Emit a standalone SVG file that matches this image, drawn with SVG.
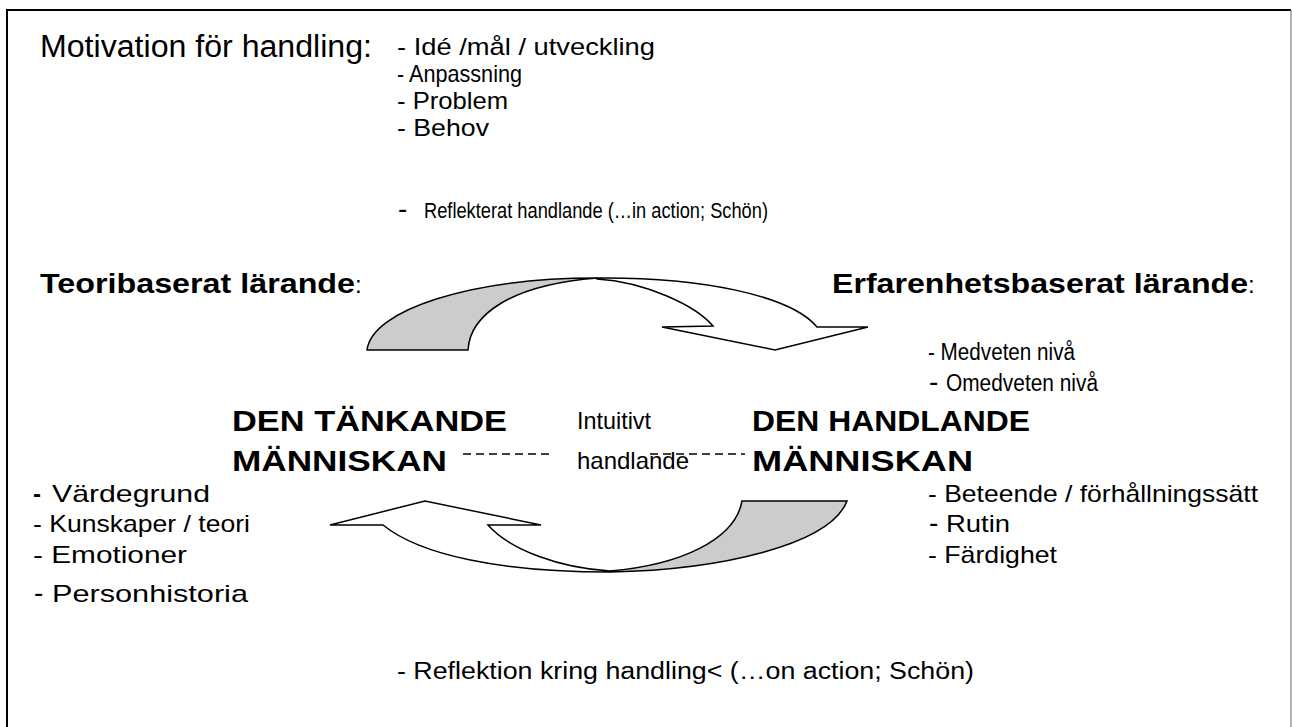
<svg xmlns="http://www.w3.org/2000/svg" width="1292" height="727" viewBox="0 0 1292 727">
<style>
text{font-family:"Liberation Sans",Arial,sans-serif;fill:#000}
.big{font-size:31px}
.it{font-size:24px}
.rf{font-size:22px}
.sm{font-size:23px}
.dsh{font-size:28px}
.hd{font-size:27px;font-weight:bold}
.mn{font-size:29px;font-weight:bold}
.ls{font-size:24px}
.b{font-weight:bold}
.arrow{stroke:#000;stroke-width:1.5;stroke-linejoin:miter}
.w{fill:#fff}
.g{fill:#cccccc}
.dash{stroke:#000;stroke-width:1.3;stroke-dasharray:8,5;fill:none}
</style>
<rect width="1292" height="727" fill="#fff"/>
<path d="M7,727 V10 H1291" fill="none" stroke="#000" stroke-width="2"/>
<path d="M1291,10 V727" fill="none" stroke="#808080" stroke-width="1.2"/>

<g id="motivation">
<text class="big" x="40" y="57" textLength="332" lengthAdjust="spacingAndGlyphs">Motivation för handling:</text>
<text class="it" x="397" y="55" textLength="258" lengthAdjust="spacingAndGlyphs">- Idé /mål / utveckling</text>
<text class="it" x="397" y="82" textLength="125" lengthAdjust="spacingAndGlyphs">- Anpassning</text>
<text class="it" x="397" y="109" textLength="111" lengthAdjust="spacingAndGlyphs">- Problem</text>
<text class="it" x="397" y="136" textLength="92" lengthAdjust="spacingAndGlyphs">- Behov</text>
<text class="dsh" x="398" y="218">-</text>
<text class="rf" x="424" y="218" textLength="344" lengthAdjust="spacingAndGlyphs">Reflekterat handlande (…in action; Schön)</text>
</g>

<g id="teori">
<text class="hd" x="40" y="293" textLength="315" lengthAdjust="spacingAndGlyphs">Teoribaserat lärande</text>
<text class="ls" x="355" y="293">:</text>
</g>
<g id="erfarenhet">
<text class="hd" x="832" y="293" textLength="416" lengthAdjust="spacingAndGlyphs">Erfarenhetsbaserat lärande</text>
<text class="ls" x="1248" y="293">:</text>
<text class="sm" x="928" y="360" textLength="147" lengthAdjust="spacingAndGlyphs">- Medveten nivå</text>
<text class="dsh" x="929" y="391">-</text>
<text class="sm" x="946" y="391" textLength="152" lengthAdjust="spacingAndGlyphs">Omedveten nivå</text>
</g>

<g id="tankande">
<text class="mn" x="232" y="431" textLength="275" lengthAdjust="spacingAndGlyphs">DEN TÄNKANDE</text>
<text class="mn" x="232" y="471" textLength="215" lengthAdjust="spacingAndGlyphs">MÄNNISKAN</text>
<text class="ls b" x="33" y="502">-</text>
<text class="ls" x="52" y="502" textLength="158" lengthAdjust="spacingAndGlyphs">Värdegrund</text>
<text class="ls" x="33" y="532" textLength="217" lengthAdjust="spacingAndGlyphs">- Kunskaper / teori</text>
<text class="ls" x="33" y="563" textLength="154" lengthAdjust="spacingAndGlyphs">- Emotioner</text>
<text class="dsh" x="34" y="602">-</text>
<text class="ls" x="52" y="602" textLength="196" lengthAdjust="spacingAndGlyphs">Personhistoria</text>
</g>

<g id="intuitivt">
<text class="it" x="577" y="429" textLength="74" lengthAdjust="spacingAndGlyphs">Intuitivt</text>
<text class="it" x="577" y="469" textLength="112" lengthAdjust="spacingAndGlyphs">handlande</text>
</g>

<g id="handlande">
<text class="mn" x="752" y="431" textLength="278" lengthAdjust="spacingAndGlyphs">DEN HANDLANDE</text>
<text class="mn" x="752" y="471" textLength="221" lengthAdjust="spacingAndGlyphs">MÄNNISKAN</text>
<text class="ls" x="928" y="502" textLength="330" lengthAdjust="spacingAndGlyphs">- Beteende / förhållningssätt</text>
<text class="dsh" x="929" y="532">-</text>
<text class="ls" x="946" y="532" textLength="64" lengthAdjust="spacingAndGlyphs">Rutin</text>
<text class="ls" x="928" y="563" textLength="129" lengthAdjust="spacingAndGlyphs">- Färdighet</text>
</g>

<g id="reflektion">
<text class="sm" x="397" y="679" textLength="577" lengthAdjust="spacingAndGlyphs">- Reflektion kring handling&lt; (…on action; Schön)</text>
</g>

<g id="connectors">
<path class="arrow g" d="M367,350 C372,310 470,278 597,278 C510,285 470,315 468,350 Z"/>
<path class="arrow w" d="M597,278 C700,277 790,295 817,327 L868,327 L775,350 L662,327 L713,326 C695,305 645,282 597,279 Z"/>
<path class="arrow w" d="M610,572 C500,572 420,555 383,525 L330,525 L425,501 L541,525 L488,525 C510,550 560,568 610,571 Z"/>
<path class="arrow g" d="M610,572 C720,570 830,545 847,501 L742,501 C735,540 680,565 610,571 Z"/>
<line class="dash" x1="463" y1="454" x2="553" y2="454"/>
<line class="dash" x1="650" y1="454" x2="745" y2="454"/>
</g>
</svg>
